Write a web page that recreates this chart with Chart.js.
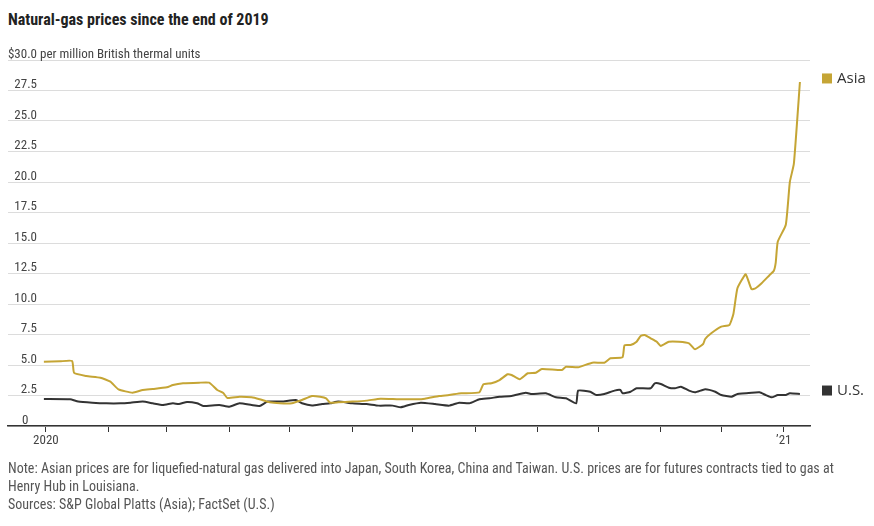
<!DOCTYPE html>
<html>
<head>
<meta charset="utf-8">
<script src="https://cdn.jsdelivr.net/npm/chart.js@4.4.1/dist/chart.umd.min.js"></script>
<style>
  html, body { margin: 0; padding: 0; background: #fff; }
  body { width: 874px; height: 526px; position: relative; overflow: hidden; }
  #title {
    position: absolute; left: 8px; top: 10px;
    font: bold 16px "Roboto Condensed", sans-serif;
    color: #222; white-space: nowrap;
  }
  #notes {
    position: absolute; left: 8px; top: 459px;
    font: 14px/18px "Roboto Condensed", sans-serif;
    color: #555; white-space: nowrap;
  }
  #chart { position: absolute; left: 0; top: 0; }
</style>
</head>
<body>
<div id="title">Natural-gas prices since the end of 2019</div>
<canvas id="chart" width="874" height="526"></canvas>
<div id="notes">
  Note: Asian prices are for liquefied-natural gas delivered into Japan, South Korea, China and Taiwan. U.S. prices are for futures contracts tied to gas at<br>
  Henry Hub in Louisiana.<br>
  Sources: S&amp;P Global Platts (Asia); FactSet (U.S.)
</div>
<script>
/* ===============================
   Data (days counted from Jan 1, 2020)
   =============================== */
const asiaDays = [-1, 7, 13, 14, 20, 27, 32, 36, 43, 48, 53, 60, 63, 68, 76, 81, 85, 88, 90, 96,
  102, 106, 111, 116, 122, 127, 132, 136, 139, 141, 145, 152, 159, 166, 175, 184, 188, 195, 200, 206,
  215, 217, 221, 225, 229, 231, 235, 239, 243, 246, 256, 258, 264, 271, 277, 280, 286, 287, 290, 293,
  295, 297, 300, 303, 305, 309, 314, 319, 322, 326, 327, 330, 335, 339, 341, 343, 347, 348, 350, 352,
  355, 359, 361, 362, 363, 367, 369, 371, 374];
const asiaValues = [5.27, 5.3, 5.33, 4.35, 4.1, 3.96, 3.63, 3.0, 2.73, 2.95, 3.03, 3.17, 3.36, 3.5, 3.55, 3.55, 2.95, 2.7, 2.3, 2.4,
  2.35, 2.19, 1.94, 1.86, 1.86, 2.13, 2.46, 2.4, 2.27, 1.91, 1.94, 2.0, 2.08, 2.24, 2.19, 2.19, 2.24, 2.46, 2.54, 2.68,
  2.76, 3.42, 3.5, 3.77, 4.24, 4.18, 3.83, 4.32, 4.37, 4.67, 4.59, 4.86, 4.81, 5.19, 5.19, 5.55, 5.63, 6.62, 6.64, 6.91,
  7.38, 7.46, 7.19, 6.91, 6.56, 6.91, 6.91, 6.78, 6.29, 6.72, 7.13, 7.6, 8.14, 8.28, 9.18, 11.29, 12.44, 12.11, 11.21, 11.29,
  11.7, 12.38, 12.7, 13.4, 15.1, 16.5, 20.0, 21.5, 28.2];

const usDays = [-1, 12, 16, 23, 30, 37, 42, 48, 53, 58, 63, 66, 70, 75, 78, 86, 91, 96, 102, 106,
  110, 117, 124, 127, 132, 137, 141, 145, 152, 159, 165, 172, 176, 180, 186, 193, 200, 205, 210, 215,
  220, 225, 231, 238, 241, 248, 253, 258, 263, 264, 270, 273, 277, 282, 285, 286, 290, 293, 300, 302,
  305, 309, 312, 315, 319, 322, 327, 332, 335, 340, 343, 350, 354, 357, 360, 363, 367, 369, 374];
const usValues = [2.21, 2.19, 2.0, 1.91, 1.86, 1.86, 1.91, 2.0, 1.86, 1.72, 1.86, 1.8, 1.97, 1.86, 1.64, 1.72, 1.58, 1.86, 1.72, 1.64,
  2.0, 2.0, 2.13, 1.86, 1.68, 1.8, 1.86, 2.0, 1.86, 1.8, 1.67, 1.67, 1.53, 1.72, 1.91, 1.8, 1.67, 1.91, 1.86, 2.19,
  2.27, 2.4, 2.46, 2.73, 2.62, 2.68, 2.35, 2.27, 1.86, 2.9, 2.81, 2.54, 2.62, 2.9, 2.95, 2.68, 2.81, 3.09, 3.09, 3.5,
  3.44, 3.14, 3.09, 3.22, 2.9, 2.76, 3.01, 2.81, 2.54, 2.4, 2.62, 2.73, 2.76, 2.54, 2.35, 2.54, 2.54, 2.68, 2.62];

const xTickDays = [0, 31, 60, 91, 121, 152, 182, 213, 244, 274, 305, 335, 366];
const xTickLabels = ["2020", "", "", "", "", "", "", "", "", "", "", "", "\u201921"];

const yTicks = [0, 2.5, 5, 7.5, 10, 12.5, 15, 17.5, 20, 22.5, 25, 27.5, 30];
const yTickLabels = ["0", "2.5", "5.0", "7.5", "10.0", "12.5", "15.0", "17.5", "20.0", "22.5", "25.0", "27.5", "$30.0"];
const yUnitText = " per million British thermal units";

/* ===============================
   Theme
   =============================== */
const narrow = '"Roboto Condensed", sans-serif';
const gold = "#c5a535";
const dark = "#333333";

const toPoints = (days, vals) => days.map((d, i) => ({ x: d, y: vals[i] }));

// y labels sit on top of their gridlines, right aligned
const yLabelPlugin = {
  id: "yLabels",
  afterDraw(chart) {
    const { ctx, scales: { y } } = chart;
    ctx.save();
    ctx.font = "13px " + narrow;
    ctx.fillStyle = "#444";
    ctx.textBaseline = "alphabetic";
    yTicks.forEach((v, i) => {
      const py = y.getPixelForValue(v) - 2.5;
      if (v === 0) {
        ctx.textAlign = "left";
        ctx.fillText(yTickLabels[i], 22, py);
        return;
      }
      ctx.textAlign = "right";
      ctx.fillText(yTickLabels[i], 37, py);
      if (v === 30) {
        ctx.textAlign = "left";
        ctx.fillText(yUnitText, 37, py);
      }
    });
    ctx.restore();
  }
};

// series labels at the end of each line
const endLabelPlugin = {
  id: "endLabels",
  afterDraw(chart) {
    const ctx = chart.ctx;
    ctx.save();
    chart.data.datasets.forEach((ds, i) => {
      const pts = chart.getDatasetMeta(i).data;
      const cy = pts[pts.length - 1].y - 3.5;
      ctx.fillStyle = ds.borderColor;
      ctx.fillRect(822, cy - 5, 10, 10);
      ctx.fillStyle = dark;
      ctx.font = '15px "Open Sans", sans-serif';
      ctx.textBaseline = "middle";
      ctx.textAlign = "left";
      ctx.fillText(ds.label, 837, cy);
    });
    ctx.restore();
  }
};

new Chart(document.getElementById("chart").getContext("2d"), {
  type: "line",
  data: {
    datasets: [
      {
        label: "Asia",
        data: toPoints(asiaDays, asiaValues),
        borderColor: gold,
        borderWidth: 2,
        pointRadius: 0,
        tension: 0.15
      },
      {
        label: "U.S.",
        data: toPoints(usDays, usValues),
        borderColor: dark,
        borderWidth: 2,
        pointRadius: 0,
        tension: 0.15
      }
    ]
  },
  options: {
    responsive: false,
    animation: false,
    layout: { padding: { top: 60, left: 8, right: 64, bottom: 0 } },
    plugins: {
      legend: { display: false },
      tooltip: { enabled: false }
    },
    scales: {
      x: {
        type: "linear",
        min: -18.8,
        max: 379,
        afterBuildTicks: s => { s.ticks = xTickDays.map(v => ({ value: v })); },
        afterFit: s => { s.height = 100; },
        grid: { drawOnChartArea: false, color: dark, tickLength: 6 },
        border: { color: dark, width: 1.5 },
        ticks: {
          callback: v => xTickLabels[xTickDays.indexOf(v)],
          color: "#444",
          font: { family: narrow, size: 13 },
          padding: 1,
          maxRotation: 0,
          autoSkip: false
        }
      },
      y: {
        min: 0,
        max: 30,
        afterBuildTicks: s => { s.ticks = yTicks.map(v => ({ value: v })); },
        afterFit: s => { s.width = 0; },
        ticks: { display: false },
        grid: { color: "#dcdcdc", drawTicks: false },
        border: { display: false }
      }
    }
  },
  plugins: [yLabelPlugin, endLabelPlugin]
});
</script>
</body>
</html>
